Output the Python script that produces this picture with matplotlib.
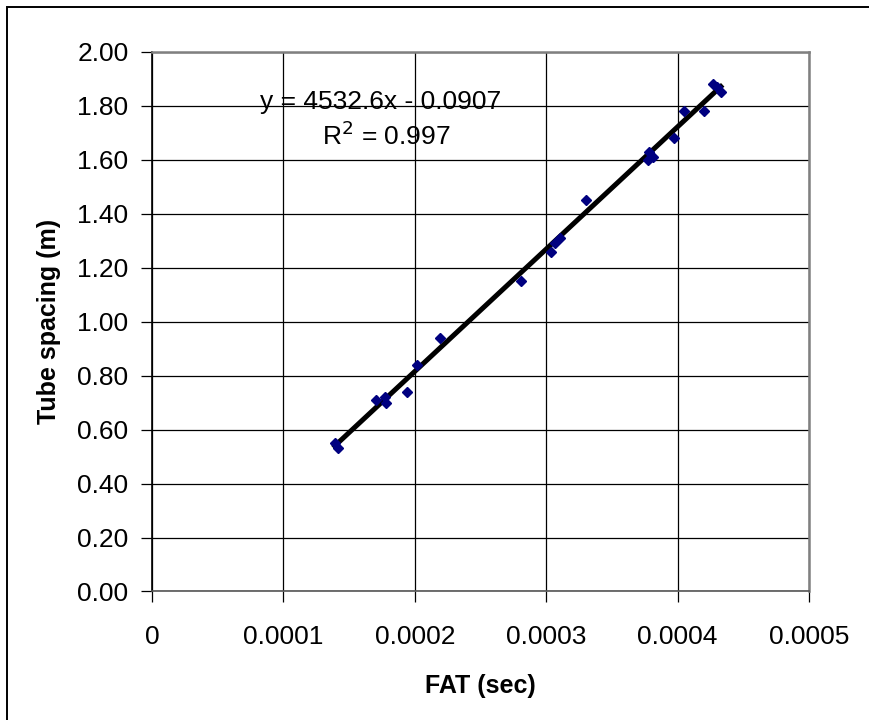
import matplotlib
matplotlib.use('Agg')
import matplotlib.pyplot as plt
import numpy as np

plt.rcParams['font.family'] = ['Liberation Sans', 'DejaVu Sans']

# FAT (sec) vs tube spacing (m)
fat = [0.000139, 0.0001417, 0.0001704, 0.0001772, 0.000178, 0.0001937, 0.0002013,
       0.000219, 0.0002806, 0.0003034, 0.0003067, 0.0003105, 0.0003303,
       0.0003778, 0.0003785, 0.0003816, 0.0003973, 0.000405, 0.00042,
       0.0004268, 0.0004299, 0.0004329]
spacing = [0.55, 0.53, 0.71, 0.72, 0.70, 0.74, 0.84,
           0.94, 1.15, 1.26, 1.29, 1.31, 1.45,
           1.60, 1.63, 1.61, 1.68, 1.78, 1.78,
           1.88, 1.87, 1.85]

slope = 4532.6
intercept = -0.0907

fig = plt.figure(figsize=(8.69, 7.2), dpi=100)
ax = fig.add_axes([0.175, 0.1785, 0.756, 0.7495])

# Excel style trendline
xl = np.array([min(fat), max(fat)])
ax.plot(xl, slope * xl + intercept, color='black', linewidth=3.6, zorder=3)
ax.plot(fat, spacing, linestyle='none', marker='D', markersize=5.2,
        color='#000080', zorder=4)

ax.set_xlim(0, 0.0005)
ax.set_ylim(0, 2.0)
ax.set_xticks([0, 0.0001, 0.0002, 0.0003, 0.0004, 0.0005])
ax.set_xticklabels(['0', '0.0001', '0.0002', '0.0003', '0.0004', '0.0005'])
ax.set_yticks(np.arange(0, 2.01, 0.2))
ax.set_yticklabels(['%.2f' % v for v in np.arange(0, 2.01, 0.2)])
ax.grid(True, color='black', linewidth=0.9)
ax.set_axisbelow(True)

ax.tick_params(direction='out', length=8, width=0.9, labelsize=19)
ax.tick_params(axis='y', pad=9)
ax.tick_params(axis='x', pad=16)
ax.spines['left'].set_color('black')
ax.spines['bottom'].set_color('#555555')
ax.spines['top'].set_color('#808080')
ax.spines['right'].set_color('#808080')
for s in ax.spines.values():
    s.set_linewidth(1.2)
ax.spines['top'].set_linewidth(1.8)
ax.spines['right'].set_linewidth(1.8)

ax.set_xlabel('FAT (sec)', fontsize=18, fontweight='bold', labelpad=18)
ax.set_ylabel('Tube spacing (m)', fontsize=18, fontweight='bold', labelpad=12)

ax.text(0.000174, 1.79, 'y = 4532.6x - 0.0907', fontsize=19, ha='center', va='baseline')
ax.text(0.000178, 1.655, 'R$^2$ = 0.997', fontsize=19, ha='center', va='baseline')

# outer chart border (right and bottom edges fall outside the picture)
fig.patches.append(plt.Rectangle((7 / 869, -0.05), 1.05, 1 - 7 / 720 + 0.05,
                                 transform=fig.transFigure, fill=False,
                                 edgecolor='black', linewidth=1.4))

fig.savefig('out.png', dpi=100)
